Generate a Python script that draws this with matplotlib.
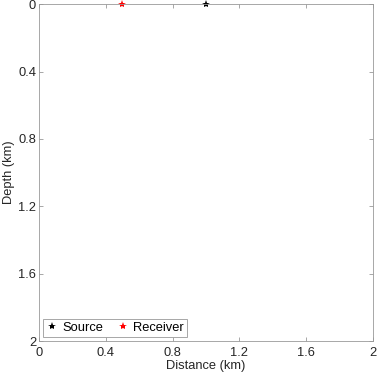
import matplotlib
matplotlib.use("Agg")
import matplotlib.pyplot as plt

plt.rcParams["font.family"] = ["Liberation Sans", "DejaVu Sans"]
plt.rcParams["font.size"] = 9.3

source_x = [1.0]
source_z = [0.0]
receiver_x = [0.5]
receiver_z = [0.0]
ticks = [0, 0.4, 0.8, 1.2, 1.6, 2]
tick_labels = ["0", "0.4", "0.8", "1.2", "1.6", "2"]

gray = "#999999"
txt = "#262626"

fig = plt.figure(figsize=(3.78, 3.74), dpi=100)
ax = fig.add_axes([0.103, 0.088, 0.884, 0.901])

ax.plot(source_x, source_z, "*", color="black", markersize=6, markeredgewidth=0,
        label="Source", clip_on=False)
ax.plot(receiver_x, receiver_z, "*", color="red", markersize=6, markeredgewidth=0,
        label="Receiver", clip_on=False)

ax.set_xlim(0, 2)
ax.set_ylim(2, 0)
ax.set_xticks(ticks)
ax.set_xticklabels(tick_labels)
ax.set_yticks(ticks)
ax.set_yticklabels(tick_labels)
ax.tick_params(direction="in", length=3, width=0.6, color=gray, labelcolor=txt,
               top=True, right=True, pad=2)
ax.tick_params(axis="x", pad=4)
for s in ax.spines.values():
    s.set_color(gray)
    s.set_linewidth(0.6)

ax.set_xlabel("Distance (km)", labelpad=1, color=txt)
ax.set_ylabel("Depth (km)", labelpad=2, color=txt)

leg = ax.legend(loc="lower left", ncol=2, handlelength=1, handletextpad=0.3,
                columnspacing=1.0, fancybox=False, framealpha=1, borderpad=0.25,
                borderaxespad=0.3)
leg.get_frame().set_edgecolor(gray)
leg.get_frame().set_linewidth(0.6)

fig.savefig("out.png", dpi=100)
